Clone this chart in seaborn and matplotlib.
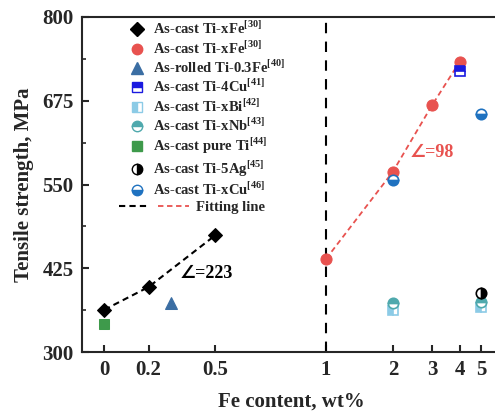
import numpy as np
import pandas as pd
import matplotlib
matplotlib.use("Agg")
import matplotlib.pyplot as plt
import seaborn as sns
from matplotlib.lines import Line2D
from matplotlib.legend_handler import HandlerTuple

# ---------------- data ----------------
fe_black_x = [0, 0.2, 0.5]
fe_black_y = [363, 397, 474]
fe_red_x = [1, 2, 3, 4]
fe_red_y = [439, 569, 668, 733]
rolled_x = [0.3]
rolled_y = [373]
cu4_x = [4]
cu4_y = [719]
bi_x = [2, 5]
bi_y = [363, 367]
nb_x = [2, 5]
nb_y = [373, 375]
pure_x = [0]
pure_y = [342]
ag_x = [5]
ag_y = [388]
cu_x = [2, 5]
cu_y = [557, 655]

x_ticks = [0, 0.2, 0.5, 1, 2, 3, 4, 5]
x_ticklabels = ["0", "0.2", "0.5", "1", "2", "3", "4", "5"]
y_ticks = [300, 425, 550, 675, 800]

labels = [
    r"As-cast Ti-xFe$^{\mathbf{[30]}}$",
    r"As-cast Ti-xFe$^{\mathbf{[30]}}$",
    r"As-rolled Ti-0.3Fe$^{\mathbf{[40]}}$",
    r"As-cast Ti-4Cu$^{\mathbf{[41]}}$",
    r"As-cast Ti-xBi$^{\mathbf{[42]}}$",
    r"As-cast Ti-xNb$^{\mathbf{[43]}}$",
    r"As-cast pure Ti$^{\mathbf{[44]}}$",
    r"As-cast Ti-5Ag$^{\mathbf{[45]}}$",
    r"As-cast Ti-xCu$^{\mathbf{[46]}}$",
]

# ---------------- style ----------------
sns.set_theme(style="ticks")
plt.rcParams["font.family"] = ["Liberation Serif", "DejaVu Sans"]
plt.rcParams["font.weight"] = "bold"
plt.rcParams["mathtext.fontset"] = "custom"
plt.rcParams["mathtext.rm"] = "Liberation Serif:bold"
plt.rcParams["mathtext.bf"] = "Liberation Serif:bold"
plt.rcParams["axes.linewidth"] = 1.5

RED = "#e8524f"
TRI = "#3b6ea3"
BLUE4 = "#1a1ae0"
BI = "#8ccbe6"
NB = "#4fa9ad"
GREEN = "#3e9a4b"
CU = "#1f72c0"

fig = plt.figure(figsize=(4.95, 4.17), dpi=100)
ax = fig.add_axes([82 / 495, 1 - 352 / 417, 1 - 82 / 495 + 0.01, (352 - 17) / 417])


def fwd(x):
    x = np.asarray(x, dtype=float)
    return np.where(x <= 1, x, 1 + np.log10(np.maximum(x, 1e-12)))


def inv(y):
    y = np.asarray(y, dtype=float)
    return np.where(y <= 1, y, 10 ** (y - 1))


ax.set_xscale("function", functions=(fwd, inv))
ax.set_xlim(-0.1, 10 ** ((500 - 104) / 222 - 1))
ax.set_ylim(300, 800)

# vertical dashed separator
ax.axvline(1, color="black", ls=(0, (5, 4)), lw=1.5, zorder=1)

# fitting lines
sns.lineplot(x=fe_black_x, y=fe_black_y, ax=ax, color="black", linestyle=(0, (3, 2)), lw=1.5, legend=False, zorder=2)
sns.lineplot(x=fe_red_x, y=fe_red_y, ax=ax, color=RED, linestyle=(0, (3, 2)), lw=1.3, legend=False, zorder=2)

# markers
def pts(x, y, **kw):
    sns.lineplot(x=x, y=y, ax=ax, linestyle="none", legend=False, zorder=3, **kw)

pts(fe_black_x, fe_black_y, marker="D", color="black", markersize=7.5, markeredgecolor="black")
pts(fe_red_x, fe_red_y, marker="o", color=RED, markersize=8, markeredgecolor=RED)
pts(rolled_x, rolled_y, marker="^", color=TRI, markersize=8.5, markeredgecolor=TRI)
pts(cu4_x, cu4_y, marker="s", color=BLUE4, markersize=7, markeredgecolor=BLUE4,
    fillstyle="top", markerfacecoloralt="white", markeredgewidth=1.2)
pts(bi_x, bi_y, marker="s", color=BI, markersize=7, markeredgecolor=BI,
    fillstyle="left", markerfacecoloralt="white", markeredgewidth=1.2)
pts(nb_x, nb_y, marker="o", color=NB, markersize=7.5, markeredgecolor=NB,
    fillstyle="top", markerfacecoloralt="white", markeredgewidth=1.2)
pts(pure_x, pure_y, marker="s", color=GREEN, markersize=7.5, markeredgecolor=GREEN)
pts(ag_x, ag_y, marker="o", color="black", markersize=7.5, markeredgecolor="black",
    fillstyle="right", markerfacecoloralt="white", markeredgewidth=1.2)
pts(cu_x, cu_y, marker="o", color=CU, markersize=7.5, markeredgecolor=CU,
    fillstyle="bottom", markerfacecoloralt="white", markeredgewidth=1.2)

# annotations
ax.text(0.34, 417, "∠=223", color="black", fontsize=13, fontweight="bold",
        va="center", ha="left", family=["Liberation Serif", "DejaVu Sans"])
ax.text(2.39, 598, "∠=98", color=RED, fontsize=13, fontweight="bold",
        va="center", ha="left", family=["Liberation Serif", "DejaVu Sans"])

# axes formatting
ax.set_xticks(x_ticks)
ax.set_xticklabels(x_ticklabels)
ax.set_yticks(y_ticks)
ax.set_yticks([362.5, 487.5, 612.5, 737.5], minor=True)
ax.xaxis.set_minor_locator(matplotlib.ticker.NullLocator())
ax.tick_params(axis="both", which="major", direction="in", length=5, width=1.5,
               labelsize=15, pad=6)
ax.tick_params(axis="y", which="minor", direction="in", length=3, width=1.2)
for lab in ax.get_xticklabels() + ax.get_yticklabels():
    lab.set_fontweight("bold")
ax.spines["right"].set_visible(False)
ax.set_xlabel("Fe content, wt%", fontsize=15, fontweight="bold", labelpad=8)
ax.set_ylabel("Tensile strength, MPa", fontsize=15, fontweight="bold", labelpad=6)

# legends
handles = [
    Line2D([], [], ls="none", marker="D", color="black", markersize=7),
    Line2D([], [], ls="none", marker="o", color=RED, markersize=7.5),
    Line2D([], [], ls="none", marker="^", color=TRI, markersize=8),
    Line2D([], [], ls="none", marker="s", color=BLUE4, markersize=7, fillstyle="top", markerfacecoloralt="white"),
    Line2D([], [], ls="none", marker="s", color=BI, markersize=7, fillstyle="left", markerfacecoloralt="white"),
    Line2D([], [], ls="none", marker="o", color=NB, markersize=7.5, fillstyle="top", markerfacecoloralt="white"),
    Line2D([], [], ls="none", marker="s", color=GREEN, markersize=7),
    Line2D([], [], ls="none", marker="o", color="black", markersize=7.5, fillstyle="right", markerfacecoloralt="white"),
    Line2D([], [], ls="none", marker="o", color=CU, markersize=7.5, fillstyle="bottom", markerfacecoloralt="white"),
]
leg1 = ax.legend(handles, labels, loc="upper left", bbox_to_anchor=(130 / 495, 1 - 20 / 417),
                 bbox_transform=fig.transFigure, frameon=False,
                 prop={"weight": "bold", "size": 10.5}, handlelength=1.0, handletextpad=0.55,
                 labelspacing=0.14, borderpad=0, borderaxespad=0)
ax.add_artist(leg1)
fit_h = (Line2D([], [], color="black", ls=(0, (3, 2)), lw=1.5), Line2D([], [], color=RED, ls=(0, (3, 2)), lw=1.3))
leg2 = ax.legend([fit_h], ["Fitting line"], loc="upper left",
                 bbox_to_anchor=(119 / 495, 1 - 201 / 417), bbox_transform=fig.transFigure,
                 frameon=False, prop={"weight": "bold", "size": 10.5},
                 handler_map={tuple: HandlerTuple(ndivide=None, pad=0.5)},
                 handlelength=4.8, handletextpad=0.5, borderpad=0, borderaxespad=0)

fig.savefig("out.png", dpi=100)
